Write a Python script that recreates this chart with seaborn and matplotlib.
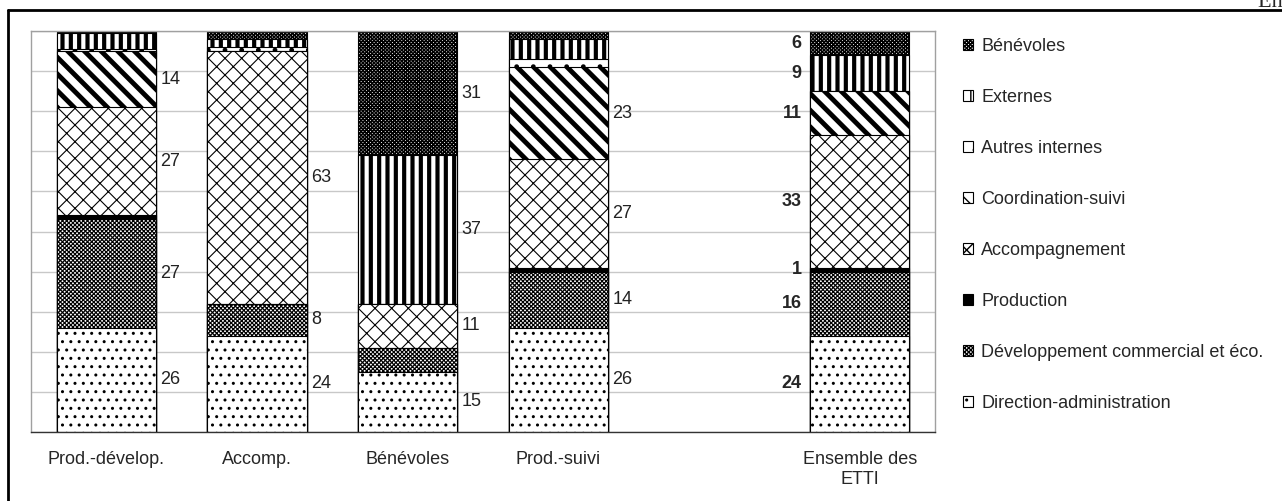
import matplotlib
matplotlib.use("Agg")
import matplotlib.pyplot as plt
import seaborn as sns
import pandas as pd
from matplotlib.patches import Patch
from matplotlib.lines import Line2D
from matplotlib.ticker import MultipleLocator, FixedLocator

# Data (en %), segments listed from bottom to top of each bar
categories = ["Prod.-dévelop.", "Accomp.", "Bénévoles", "Prod.-suivi", "Ensemble des\nETTI"]
order = categories[:4] + [""] + categories[4:]   # empty slot before "Ensemble"

direction = [26, 24, 15, 26, 24]
developpement = [27, 8, 6, 14, 16]
production = [1, 0, 0, 1, 1]
accompagnement = [27, 63, 11, 27, 33]
coordination = [14, 0, 0, 23, 11]
autres_internes = [0.5, 1, 0, 2, 0]
externes = [4, 2, 37, 5, 9]
benevoles = [0.5, 2, 31, 2, 6]

series_names = ["Direction-administration", "Développement commercial et éco.", "Production",
                "Accompagnement", "Coordination-suivi", "Autres internes", "Externes", "Bénévoles"]
series_values = [direction, developpement, production, accompagnement,
                 coordination, autres_internes, externes, benevoles]

# minimum value that gets a label, per bar
label_min = [8, 8, 8, 8, 1]

# styles: (facecolor, hatch, hatch linewidth)
styles = {
    "Direction-administration": ("white", "..", 1.0),
    "Développement commercial et éco.": ("white", "xxxxxxxx", 0.85),
    "Production": ("black", "", 1.0),
    "Accompagnement": ("white", "xx", 0.8),
    "Coordination-suivi": ("white", "\\\\", 3.5),
    "Autres internes": ("white", ".", 1.0),
    "Externes": ("white", "||", 3.0),
    "Bénévoles": ("white", "xxxxxxxxx", 1.1),
}

sns.set_style("white")
plt.rcParams["font.family"] = ["Liberation Sans", "DejaVu Sans"]

fig = plt.figure(figsize=(12.82, 5.01), dpi=100)
ax = fig.add_axes([31 / 1282, 69 / 501, 904 / 1282, 401 / 501])

# cumulative tops
cum = []
running = [0] * len(categories)
for vals in series_values:
    running = [r + v for r, v in zip(running, vals)]
    cum.append(list(running))

# draw from top layer down so each lower layer covers the previous one
for name, tops in reversed(list(zip(series_names, cum))):
    fc, hatch, hlw = styles[name]
    plt.rcParams["hatch.linewidth"] = hlw
    df = pd.DataFrame({"cat": categories, "top": tops})
    sns.barplot(data=df, x="cat", y="top", order=order, color=fc, saturation=1,
                edgecolor="black", linewidth=0.8, hatch=hatch, width=0.66,
                errorbar=None, ax=ax)
    for p in ax.containers[-1]:
        if hasattr(p, "set_hatch_linewidth"):
            p.set_hatch_linewidth(hlw)

# value labels
for i, cat in enumerate(categories):
    xpos = order.index(cat)
    bottom = 0
    for vals in series_values:
        v = vals[i]
        mid = bottom + v / 2
        bottom += v
        if v < label_min[i]:
            continue
        if i == len(categories) - 1:
            ax.annotate(f"{round(v)}", (xpos - 0.33, mid), xytext=(-6, 0),
                        textcoords="offset points", ha="right", va="center",
                        fontsize=13, fontweight="bold")
        else:
            ax.annotate(f"{round(v)}", (xpos + 0.33, mid), xytext=(3, 0),
                        textcoords="offset points", ha="left", va="center",
                        fontsize=13, color="#222222")

ax.set_xlim(-0.5, len(order) - 0.5)
ax.set_ylim(0, 100)
ax.set_xlabel("")
ax.set_ylabel("")
ax.yaxis.set_major_locator(MultipleLocator(10))
ax.set_yticklabels([])
ax.tick_params(axis="y", length=0)
ax.grid(axis="y", color="#c8c8c8", linewidth=1)
ax.set_axisbelow(True)
ax.xaxis.set_minor_locator(FixedLocator([k - 0.5 for k in range(len(order) + 1)]))
ax.tick_params(axis="x", which="major", length=0, pad=14, labelsize=13)
ax.tick_params(axis="x", which="minor", length=6, width=1, color="black", direction="out")
for side in ["left", "right", "top"]:
    ax.spines[side].set_color("#a0a0a0")
    ax.spines[side].set_linewidth(1)
ax.spines["bottom"].set_color("#333333")
ax.spines["bottom"].set_linewidth(1)

# legend, top layer first
handles = []
for name in reversed(series_names):
    fc, hatch, hlw = styles[name]
    plt.rcParams["hatch.linewidth"] = min(hlw, 1.0)
    handles.append(Patch(facecolor=fc, edgecolor="black", hatch=hatch, linewidth=0.8))
fig.legend(handles, list(reversed(series_names)), loc="upper left",
           bbox_to_anchor=(963 / 1282, 1 - 38 / 501), frameon=False, fontsize=13,
           handlelength=0.55, handleheight=0.55, handletextpad=0.45, labelspacing=1.885,
           borderaxespad=0, borderpad=0)

# outer frame and "En %"
fig.add_artist(Line2D([8 / 1282, 1], [1 - 10 / 501] * 2, color="black", linewidth=2,
                      transform=fig.transFigure))
fig.add_artist(Line2D([8 / 1282] * 2, [0, 1 - 10 / 501], color="black", linewidth=2,
                      transform=fig.transFigure))
fig.text(1258 / 1282, 1 - 7 / 501, "En %", ha="left", va="baseline",
         family=["Liberation Serif", "DejaVu Serif"], fontsize=16)

fig.savefig("out.png", dpi=100)
